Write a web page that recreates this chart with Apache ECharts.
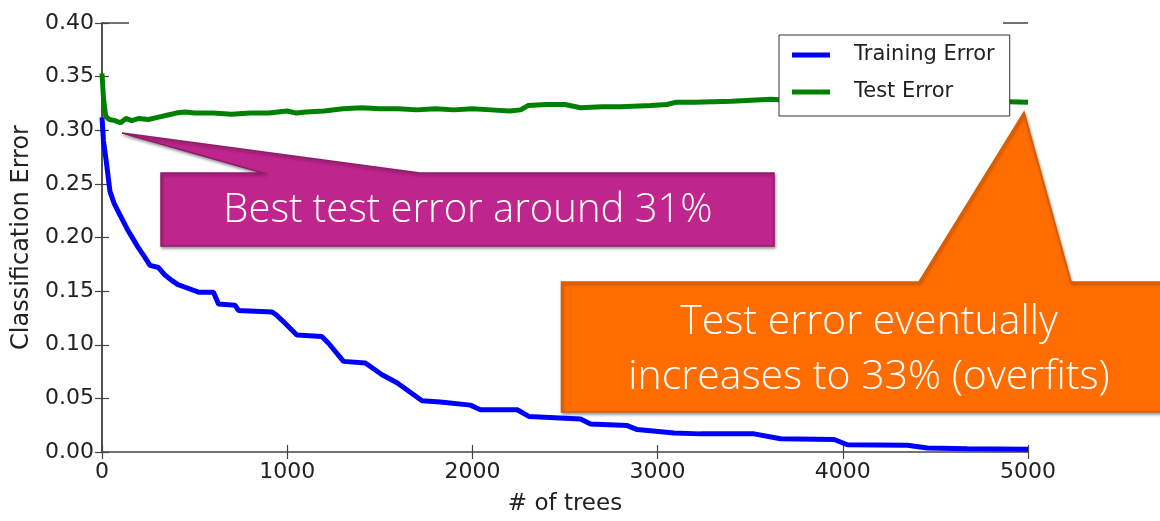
<!DOCTYPE html>
<html>
<head>
<meta charset="utf-8">
<script src="https://cdn.jsdelivr.net/npm/echarts@6/dist/echarts.min.js"></script>
<style>html,body{margin:0;padding:0;background:#fff}#c{width:1160px;height:521px}</style>
</head>
<body>
<div id="c"></div>
<script>
// ---- data ----
const seriesNames = ['Training Error', 'Test Error'];
const xTicks = [0, 1000, 2000, 3000, 4000, 5000];
const yTicks = [0.00, 0.05, 0.10, 0.15, 0.20, 0.25, 0.30, 0.35, 0.40];

const trainingTrees = [0, 8, 20, 43, 65, 88, 115, 142, 170, 196, 230, 259, 305, 340, 376, 410, 449, 521, 602, 629, 719, 737, 917, 940, 971, 1052, 1187, 1223, 1304, 1422, 1512, 1593, 1728, 1827, 1989, 2043, 2242, 2305, 2584, 2638, 2836, 2890, 3088, 3232, 3521, 3664, 3953, 4025, 4349, 4457, 4673, 5000];
const trainingError = [0.312, 0.290, 0.275, 0.243, 0.232, 0.224, 0.215, 0.206, 0.198, 0.1905, 0.182, 0.174, 0.172, 0.165, 0.160, 0.156, 0.1536, 0.149, 0.149, 0.138, 0.1368, 0.132, 0.1306, 0.128, 0.123, 0.109, 0.1076, 0.1014, 0.0845, 0.083, 0.072, 0.0645, 0.0477, 0.0467, 0.0437, 0.0394, 0.0394, 0.0332, 0.0307, 0.0261, 0.0246, 0.0209, 0.0178, 0.0169, 0.0169, 0.0123, 0.0117, 0.0068, 0.0062, 0.0037, 0.003, 0.0025];

const testTrees = [0, 8, 20, 40, 70, 100, 130, 160, 200, 250, 300, 350, 400, 450, 500, 600, 700, 800, 900, 1000, 1050, 1100, 1200, 1300, 1400, 1500, 1600, 1700, 1800, 1900, 2000, 2100, 2200, 2260, 2300, 2400, 2500, 2584, 2700, 2800, 2962, 3050, 3097, 3200, 3400, 3611, 3700, 3900, 4200, 4500, 4800, 5000];
const testError = [0.353, 0.330, 0.313, 0.310, 0.309, 0.307, 0.311, 0.309, 0.311, 0.310, 0.312, 0.314, 0.316, 0.317, 0.316, 0.316, 0.315, 0.316, 0.316, 0.318, 0.316, 0.317, 0.318, 0.320, 0.321, 0.320, 0.320, 0.319, 0.320, 0.319, 0.320, 0.319, 0.318, 0.319, 0.323, 0.324, 0.324, 0.321, 0.322, 0.322, 0.323, 0.324, 0.326, 0.326, 0.327, 0.329, 0.328, 0.328, 0.327, 0.328, 0.327, 0.326];

const calloutBest = 'Best test error around 31%';
const calloutOverfit = ['Test error eventually', 'increases to 33% (overfits)'];
const xName = '# of trees';
const yName = 'Classification Error';

// ---- chart ----
const chart = echarts.init(document.getElementById('c'), null, {renderer: 'canvas'});
const zip = (a, b) => a.map((v, i) => [v, b[i]]);
const tickFont = {fontFamily: 'DejaVu Sans', fontSize: 22, color: '#222'};
const axisLine = {show: true, lineStyle: {color: '#444', width: 1.5}};
const tickIn = {show: true, inside: true, length: 7, lineStyle: {color: '#444', width: 1.2}};

const option = {
  animation: false,
  backgroundColor: '#fff',
  grid: {left: 102, right: 132, top: 23, bottom: 64, containLabel: false},
  legend: {
    data: seriesNames,
    orient: 'vertical',
    left: 779, top: 35,
    icon: 'rect', itemWidth: 38, itemHeight: 5, itemGap: 15,
    padding: [9, 15, 13, 13],
    borderColor: '#333', borderWidth: 1, backgroundColor: '#fff',
    textStyle: {fontFamily: 'DejaVu Sans', fontSize: 21, color: '#222', lineHeight: 22, padding: [0, 0, 0, 19]},
    z: 20
  },
  xAxis: [{
    type: 'value', position: 'bottom', min: xTicks[0], max: xTicks[xTicks.length - 1], interval: 1000,
    name: xName, nameLocation: 'middle', nameGap: 41,
    nameTextStyle: {fontFamily: 'DejaVu Sans', fontSize: 23, color: '#222'},
    axisLine: axisLine, axisTick: tickIn, splitLine: {show: false},
    axisLabel: Object.assign({margin: 9, formatter: v => String(v)}, tickFont)
  }, {
    type: 'value', position: 'top', min: xTicks[0], max: xTicks[xTicks.length - 1], interval: 1000,
    axisLine: {show: false}, axisTick: tickIn, axisLabel: {show: false}, splitLine: {show: false}
  }],
  yAxis: [{
    type: 'value', position: 'left', min: yTicks[0], max: yTicks[yTicks.length - 1], interval: 0.05,
    name: yName, nameLocation: 'middle', nameGap: 67,
    nameTextStyle: {fontFamily: 'DejaVu Sans', fontSize: 24, color: '#222'},
    axisLine: axisLine, axisTick: tickIn, splitLine: {show: false},
    axisLabel: Object.assign({margin: 8, formatter: v => v.toFixed(2)}, tickFont)
  }, {
    type: 'value', position: 'right', min: yTicks[0], max: yTicks[yTicks.length - 1], interval: 0.05,
    axisLine: axisLine, axisTick: tickIn, axisLabel: {show: false}, splitLine: {show: false}
  }],
  series: [{
    name: seriesNames[0], type: 'line', symbol: 'none', data: zip(trainingTrees, trainingError),
    lineStyle: {color: '#0000ff', width: 5}, itemStyle: {color: '#0000ff'}, z: 3
  }, {
    name: seriesNames[1], type: 'line', symbol: 'none', data: zip(testTrees, testError),
    lineStyle: {color: '#008000', width: 5}, itemStyle: {color: '#008000'}, z: 4
  }],
  graphic: [
    // partial top spine corners
    {type: 'line', shape: {x1: 102, y1: 23, x2: 129, y2: 23}, style: {stroke: '#444', lineWidth: 1.5}, z: 10},
    {type: 'line', shape: {x1: 1003, y1: 23, x2: 1028, y2: 23}, style: {stroke: '#444', lineWidth: 1.5}, z: 10},
    // magenta callout
    {type: 'polygon', z: 50,
      shape: {points: [[161, 173], [263, 173], [122, 133], [420, 173], [774, 173], [774, 246], [161, 246]]},
      style: {fill: '#bf268d', stroke: '#8f1d6b', lineWidth: 1.5, shadowBlur: 3, shadowColor: 'rgba(0,0,0,0.35)', shadowOffsetX: 1, shadowOffsetY: 2}},
    {type: 'text', z: 51, x: 468, y: 211,
      style: {text: calloutBest, fill: '#fff', font: '300 40px "Open Sans", sans-serif', align: 'center', verticalAlign: 'middle'}},
    // orange callout
    {type: 'polygon', z: 50,
      shape: {points: [[561.5, 282], [919, 282], [1024, 112], [1071, 282], [1176, 282], [1176, 412], [561.5, 412]]},
      style: {fill: '#ff6d00', stroke: '#d85c00', lineWidth: 1.5, shadowBlur: 3, shadowColor: 'rgba(0,0,0,0.35)', shadowOffsetX: 1, shadowOffsetY: 2}},
    {type: 'text', z: 51, x: 869, y: 322,
      style: {text: calloutOverfit[0], fill: '#fff', font: '300 41px "Open Sans", sans-serif', align: 'center', verticalAlign: 'middle'}},
    {type: 'text', z: 51, x: 869, y: 377,
      style: {text: calloutOverfit[1], fill: '#fff', font: '300 41px "Open Sans", sans-serif', align: 'center', verticalAlign: 'middle'}}
  ]
};
chart.setOption(option);
</script>
</body>
</html>
